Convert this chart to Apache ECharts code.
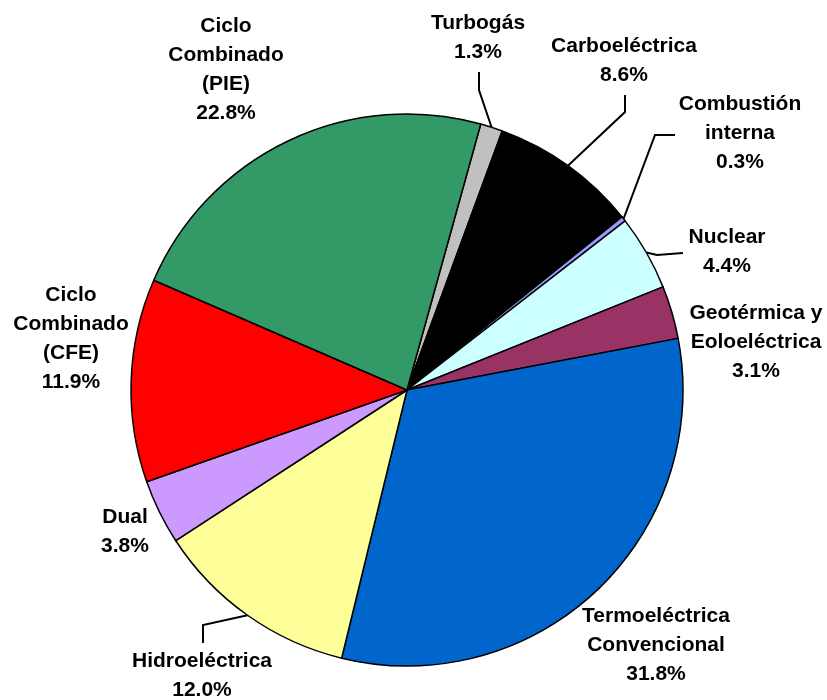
<!DOCTYPE html>
<html>
<head>
    <meta charset="utf-8">
    <title>Capacidad por tecnología</title>
    <script src="https://cdn.jsdelivr.net/npm/echarts@6/dist/echarts.min.js"></script>
    <style>
        html, body { margin: 0; padding: 0; background: #fff; }
        #chart { width: 827px; height: 700px; }
    </style>
</head>
<body>
    <div id="chart"></div>

    <script type="text/javascript">
       // slices, clockwise starting from Turbogás
       var names = ['Turbogás', 'Carboeléctrica', 'Combustión\ninterna', 'Nuclear',
                    'Geotérmica y\nEoloeléctrica', 'Termoeléctrica\nConvencional', 'Hidroeléctrica',
                    'Dual', 'Ciclo\nCombinado\n(CFE)', 'Ciclo\nCombinado\n(PIE)'];
       var shares = [1.3, 8.6, 0.3, 4.4, 3.1, 31.8, 12.0, 3.8, 11.9, 22.8];
       var colors = ['#c0c0c0', '#000000', '#9999ff', '#ccffff', '#993366',
                     '#0066cc', '#ffff99', '#cc99ff', '#ff0000', '#339966'];

       // where each label sits, and bends of the leader lines (if any)
       var labelSpots = [
           {x: 478, y: 38, bend: [[479, 90], [479, 72]]},
           {x: 624, y: 61, bend: [[625, 112], [625, 95]]},
           {x: 740, y: 133, bend: [[655, 135], [675, 135]]},
           {x: 727, y: 252, bend: [[657, 255], [683, 253]]},
           {x: 756, y: 342},
           {x: 656, y: 645},
           {x: 202, y: 676, bend: [[203, 625], [203, 643]]},
           {x: 125, y: 532},
           {x: 71, y: 339},
           {x: 226, y: 70}
       ];

       var myChart = echarts.init(document.getElementById('chart'));

       var items = [];
       for (var i = 0; i < names.length; i++) {
           items.push({
               name: names[i],
               value: shares[i],
               itemStyle: {color: colors[i]},
               labelLine: {show: !!labelSpots[i].bend}
           });
       }

       myChart.setOption({
           backgroundColor: '#ffffff',
           animation: false,
           series: [{
               type: 'pie',
               center: [407, 390],
               radius: 276,
               startAngle: 74.5,
               clockwise: true,
               avoidLabelOverlap: false,
               data: items,
               itemStyle: {borderColor: '#000', borderWidth: 1.5},
               label: {
                   show: true,
                   position: 'outside',
                   color: '#000',
                   fontFamily: 'Liberation Sans, Arial, sans-serif',
                   fontWeight: 'bold',
                   fontSize: 21,
                   lineHeight: 29,
                   align: 'center',
                   formatter: function (p) {
                       return p.name + '\n' + p.value.toFixed(1) + '%';
                   }
               },
               labelLine: {lineStyle: {color: '#000', width: 2}},
               labelLayout: function (p) {
                   var spot = labelSpots[p.dataIndex];
                   var out = {x: spot.x, y: spot.y, align: 'center', verticalAlign: 'middle'};
                   if (spot.bend && p.labelLinePoints) {
                       out.labelLinePoints = [p.labelLinePoints[0]].concat(spot.bend);
                   }
                   return out;
               }
           }]
       });
    </script>
</body>
</html>
